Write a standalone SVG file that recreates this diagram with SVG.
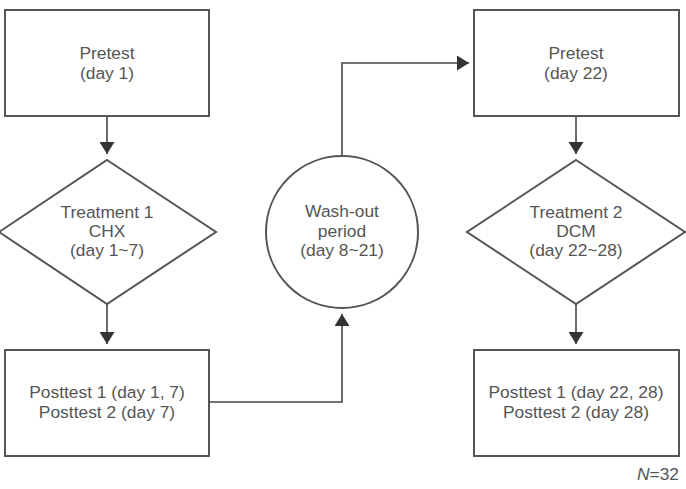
<svg xmlns="http://www.w3.org/2000/svg" width="686" height="489" viewBox="0 0 686 489">
<style>
.node{fill:#fff;stroke:#555;stroke-width:2}
.t{font-family:"Liberation Sans",Arial,sans-serif;font-size:17.4px;fill:#555;text-anchor:middle}
.c{fill:none;stroke:#444;stroke-width:1.6}
</style>
<defs>
<marker id="ah" viewBox="0 0 12 15" refX="12" refY="7.5" markerWidth="12" markerHeight="15" markerUnits="userSpaceOnUse" orient="auto">
<path d="M0,0 L12,7.5 L0,15 Z" fill="#333"/>
</marker>
</defs>
<rect width="686" height="489" fill="#fff"/>
<g id="connectors">
<line class="c" x1="107" y1="116" x2="107" y2="154" marker-end="url(#ah)"/>
<line class="c" x1="107" y1="304" x2="107" y2="344" marker-end="url(#ah)"/>
<polyline class="c" points="209,402 342,402 342,314" marker-end="url(#ah)"/>
<polyline class="c" points="342,156 342,63 469,63" marker-end="url(#ah)"/>
<line class="c" x1="576" y1="116" x2="576" y2="154" marker-end="url(#ah)"/>
<line class="c" x1="576" y1="304" x2="576" y2="344" marker-end="url(#ah)"/>
</g>
<g id="pretest1">
<rect class="node" x="5" y="10" width="204" height="106"/>
<text class="t" x="107" y="59">Pretest</text>
<text class="t" x="107" y="79">(day 1)</text>
</g>
<g id="treatment1">
<polygon class="node" points="107,160 216,232 107,304 -1,232"/>
<text class="t" x="107" y="218">Treatment 1</text>
<text class="t" x="107" y="237">CHX</text>
<text class="t" x="107" y="256">(day 1~7)</text>
</g>
<g id="posttest1">
<rect class="node" x="5" y="350" width="204" height="106"/>
<text class="t" x="107" y="398">Posttest 1 (day 1, 7)</text>
<text class="t" x="107" y="418">Posttest 2 (day 7)</text>
</g>
<g id="washout">
<circle class="node" cx="342" cy="232" r="76" stroke-width="1.6"/>
<text class="t" x="342" y="217">Wash-out</text>
<text class="t" x="342" y="237">period</text>
<text class="t" x="342" y="256">(day 8~21)</text>
</g>
<g id="pretest2">
<rect class="node" x="474" y="10" width="205" height="106"/>
<text class="t" x="576" y="59">Pretest</text>
<text class="t" x="576" y="79">(day 22)</text>
</g>
<g id="treatment2">
<polygon class="node" points="576,160 685,232 576,304 467,232"/>
<text class="t" x="576" y="218">Treatment 2</text>
<text class="t" x="576" y="237">DCM</text>
<text class="t" x="576" y="256">(day 22~28)</text>
</g>
<g id="posttest2">
<rect class="node" x="474" y="350" width="205" height="106"/>
<text class="t" x="576" y="398">Posttest 1 (day 22, 28)</text>
<text class="t" x="576" y="418">Posttest 2 (day 28)</text>
</g>
<text class="t" x="679" y="480" style="text-anchor:end"><tspan font-style="italic">N</tspan>=32</text>
</svg>
